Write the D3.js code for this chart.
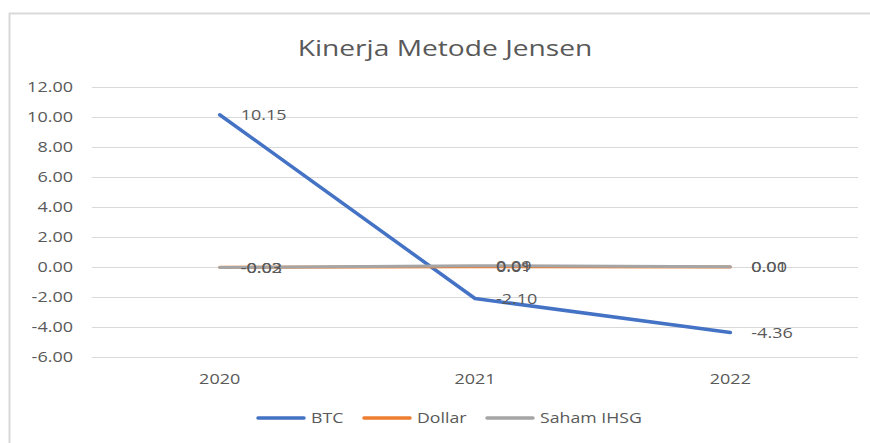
<!DOCTYPE html>
<meta charset="utf-8">
<script src="https://d3js.org/d3.v7.min.js"></script>
<style>
  body { margin: 0; background: #fff; }
  svg text { font-family: "Open Sans", "Liberation Sans", sans-serif; fill: #595959; }
</style>
<div id="chart"></div>
<script>
// data
var years = ["2020", "2021", "2022"];
var btc = [10.15, -2.10, -4.36];
var dollar = [-0.02, 0.01, 0.00];
var saham = [-0.03, 0.09, 0.01];
var yTicks = [-6, -4, -2, 0, 2, 4, 6, 8, 10, 12];

var series = [
  { name: "BTC", values: btc, color: "#4472C4" },
  { name: "Dollar", values: dollar, color: "#ED7D31" },
  { name: "Saham IHSG", values: saham, color: "#A5A5A5" }
];

var W = 870, H = 443;
var margin = { top: 87, right: 12, bottom: 86, left: 92 };
var width = W - margin.left - margin.right,
    height = H - margin.top - margin.bottom;

// excel-ish number format with a plain hyphen
var fmt = function(d) { return d3.format(".2f")(d).replace("\u2212", "-"); };

// the original picture is stretched sideways, so widen the glyphs a bit
function stretch(sel, k) {
  sel.each(function() {
    var w = this.getComputedTextLength();
    this.setAttribute("textLength", w * k);
    this.setAttribute("lengthAdjust", "spacingAndGlyphs");
  });
}

var svg = d3.select("#chart").append("svg")
  .attr("width", W).attr("height", H);

// chart border
svg.append("rect")
  .attr("x", 9.5).attr("y", 13.5)
  .attr("width", 900).attr("height", 460)
  .attr("fill", "none").attr("stroke", "#D9D9D9").attr("stroke-width", 2);

var title = svg.append("text")
  .attr("x", 445).attr("y", 56)
  .attr("text-anchor", "middle")
  .style("font-size", "22px")
  .text("Kinerja Metode Jensen");
stretch(title, 1.28);

var g = svg.append("g")
  .attr("transform", "translate(" + margin.left + "," + margin.top + ")");

var x = d3.scaleBand().domain(years).range([0, width]);
var y = d3.scaleLinear().domain([-6, 12]).range([height, 0]);

// gridlines
g.selectAll(".grid").data(yTicks).enter().append("line")
  .attr("x1", 0).attr("x2", width)
  .attr("y1", function(d) { return y(d) + 0.5; })
  .attr("y2", function(d) { return y(d) + 0.5; })
  .attr("stroke", "#D9D9D9").attr("stroke-width", 1);

// y axis
var yAxis = g.append("g")
  .call(d3.axisLeft(y).tickValues(yTicks).tickSize(0).tickPadding(19)
    .tickFormat(fmt));
yAxis.select(".domain").remove();
yAxis.selectAll("text").style("font-size", "15px").attr("fill", "#595959");
stretch(yAxis.selectAll("text"), 1.2);

// x axis
var xAxis = g.append("g")
  .attr("transform", "translate(0," + height + ")")
  .call(d3.axisBottom(x).tickSize(0).tickPadding(16));
xAxis.select(".domain").remove();
xAxis.selectAll("text").style("font-size", "15px").attr("fill", "#595959");
stretch(xAxis.selectAll("text"), 1.2);

var line = d3.line()
  .x(function(d, i) { return x(years[i]) + x.bandwidth() / 2; })
  .y(function(d) { return y(d); });

// lines, in series order like excel
series.forEach(function(s) {
  g.append("path")
    .datum(s.values)
    .attr("fill", "none")
    .attr("stroke", s.color)
    .attr("stroke-width", s.name == "BTC" ? 3.5 : 3)
    .attr("stroke-linecap", "round")
    .attr("stroke-linejoin", "round")
    .attr("d", line);
});

// data labels
series.forEach(function(s, k) {
  var lbl = g.selectAll(".lbl" + k).data(s.values).enter().append("text")
    .attr("x", function(d, i) { return x(years[i]) + x.bandwidth() / 2 + 21; })
    .attr("y", function(d) { return y(d); })
    .attr("dy", "0.35em")
    .style("font-size", "15px")
    .attr("fill", "#404040")
    .text(fmt);
  stretch(lbl, 1.2);
});

// legend
var legend = svg.append("g").attr("transform", "translate(0,418)");
var lx = [258, 364, 487];
series.forEach(function(s, i) {
  legend.append("line")
    .attr("x1", lx[i]).attr("x2", lx[i] + 46)
    .attr("y1", 0).attr("y2", 0)
    .attr("stroke", s.color).attr("stroke-width", 3.5)
    .attr("stroke-linecap", "round");
  var t = legend.append("text")
    .attr("x", lx[i] + 53).attr("y", 0).attr("dy", "0.35em")
    .style("font-size", "15px")
    .text(s.name);
  stretch(t, 1.18);
});
</script>
